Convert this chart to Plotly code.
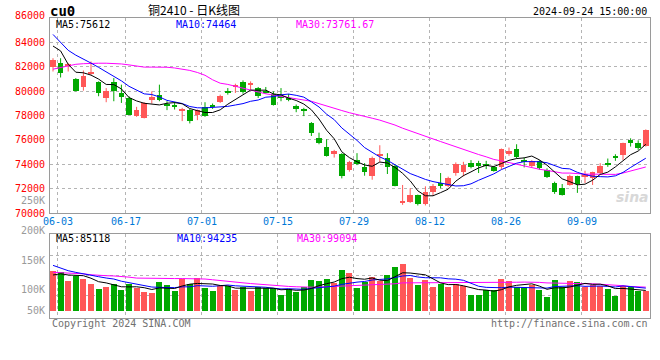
import plotly.graph_objects as go

# ---------------- data ----------------
dates = ["06-03","06-04","06-05","06-06","06-07","06-11","06-12","06-13","06-14","06-17",
         "06-18","06-19","06-20","06-21","06-24","06-25","06-26","06-27","06-28",
         "07-01","07-02","07-03","07-04","07-05","07-08","07-09","07-10","07-11","07-12",
         "07-15","07-16","07-17","07-18","07-19","07-22","07-23","07-24","07-25","07-26",
         "07-29","07-30","07-31",
         "08-01","08-02","08-05","08-06","08-07","08-08","08-09","08-12","08-13","08-14",
         "08-15","08-16","08-19","08-20","08-21","08-22","08-23","08-26","08-27","08-28",
         "08-29","08-30",
         "09-02","09-03","09-04","09-05","09-06","09-09","09-10","09-11","09-12","09-13",
         "09-18","09-19","09-20","09-23","09-24"]
tick_dates = ["06-03", "06-17", "07-01", "07-15", "07-29", "08-12", "08-26", "09-09"]

opens = [81940, 82290, 82070, 81010, 80340, 81480, 80720, 79440, 80720, 79850,
         79440, 78000, 77810, 79250, 79710, 78980, 78820, 78350, 78490, 78060,
         78710, 78820, 79090, 80040, 80340, 80720, 80530, 80250, 79980, 79790,
         79580, 79440, 78760, 78490, 77400, 76130, 75450, 74820, 74820, 73550,
         74340, 73740, 73060, 74690, 74550, 73820, 70830, 70890, 71480, 70700,
         71760, 72460, 72240, 73280, 73330, 74090, 74090, 74010, 73790, 73740,
         74880, 75290, 74340, 73820, 74230, 73520, 72460, 72030, 72300, 73010,
         72920, 72840, 73280, 74090, 74690, 74740, 75960, 75770, 75500]
highs = [82700, 82700, 82290, 81070, 81690, 82430, 80800, 80250, 81070, 80530,
         79580, 78710, 79090, 79980, 80530, 79170, 79110, 78630, 78540, 78490,
         79090, 78980, 79710, 80250, 80610, 80880, 80800, 80340, 80340, 79980,
         80250, 79770, 78900, 78630, 77460, 76590, 76050, 75180, 74910, 74280,
         74910, 74090, 74630, 75560, 74910, 74010, 72300, 72030, 71510, 72190,
         72380, 73280, 72980, 74150, 74200, 74340, 74280, 74280, 73870, 75290,
         75370, 75640, 74550, 74340, 74340, 73660, 72570, 72380, 73140, 73060,
         73470, 73390, 74090, 74470, 74820, 75770, 76130, 75960, 76860]
lows = [81610, 81120, 81610, 79980, 80040, 81340, 79580, 79090, 79170, 79030,
        78080, 77890, 77760, 78980, 79170, 78440, 78490, 77540, 77350, 77620,
        77890, 78540, 79030, 79710, 79850, 79790, 80120, 79440, 79790, 78820,
        79170, 79170, 78270, 77950, 76320, 75640, 74630, 74550, 72840, 73390,
        73930, 73060, 72730, 74200, 73200, 72190, 70670, 70830, 70620, 70620,
        71430, 72030, 72110, 73060, 73010, 73660, 73280, 73600, 73390, 73600,
        74690, 74470, 73740, 73740, 73550, 72870, 71570, 71430, 72240, 71650,
        72460, 72300, 73200, 73790, 74280, 74360, 75450, 75180, 75450]
closes = [82560, 81480, 82180, 80040, 81260, 81610, 79850, 79980, 79980, 79490,
          78080, 78440, 79030, 79490, 79300, 78760, 78710, 78540, 77540, 78440,
          78000, 78710, 79630, 79850, 80440, 79900, 80610, 79580, 79870, 78900,
          79490, 79300, 78600, 78410, 76530, 75720, 74690, 75100, 73060, 74150,
          74010, 73390, 74550, 74800, 73740, 72240, 70940, 71480, 70700, 71700,
          72240, 72240, 72870, 74010, 73960, 73790, 73870, 73930, 73470, 75230,
          75100, 74610, 74200, 74230, 73660, 72920, 71700, 71510, 73060, 72380,
          73170, 73330, 73870, 74010, 74550, 75720, 75770, 75370, 76780]
volumes = [166600, 163800, 124600, 147000, 133000, 113400, 91000, 99400, 112000, 86800,
           110600, 93800, 79800, 74200, 120400, 107800, 84000, 133000, 112000, 135800,
           96600, 82600, 102200, 103600, 88200, 98000, 82600, 99400, 95200, 96600,
           65800, 91000, 79800, 100800, 128800, 124600, 133000, 114800, 170800, 159600,
           96600, 119000, 141400, 124600, 149800, 183400, 197400, 135800, 107800, 128800,
           99400, 112000, 99400, 110600, 102200, 65800, 65800, 88200, 88200, 133000,
           124600, 99400, 99400, 107800, 85400, 57400, 130200, 98000, 126000, 120400,
           99400, 109200, 102200, 91000, 63000, 102200, 98000, 81200, 81200]

ma5_head = [83700, 83300, 82200, 81550]
ma10_head = [84650, 84000, 83350, 82950, 82650, 82300, 81950, 81600, 81200]
ma30_head = [81800, 81950, 82100, 82200, 82250, 82290, 82290, 82290, 82290, 82230,
             82150, 82050, 81970, 81970, 81970, 81960, 81900, 81800, 81700, 81530,
             81300, 80930, 80650, 80550, 80400, 80250, 80100, 79900, 79780]
vma5_head = [150000, 155000, 150000, 148000]
vma10_head = [190400, 177800, 168000, 161000, 154000, 148400, 142800, 137200, 133000]
vma30_head = [161000, 160000, 158000, 157000, 155000, 151000, 148000, 147000, 146000, 145000,
              141000, 137000, 136000, 136000, 136000, 136000, 135000, 135000, 135000, 135000,
              133000, 130000, 126000, 123000, 120000, 117000, 114000, 111000, 109000]

price_ticks = [70000, 72000, 74000, 76000, 78000, 80000, 82000, 84000, 86000]
vol_labels = ["250K", "200K", "150K", "100K", "50K"]

title_code = "cu0"
title_name = "铜2410 - 日K线图"
stamp = "2024-09-24 15:00:00"
price_legend = ["MA5:75612", "MA10:74464", "MA30:73761.67"]
vol_legend = ["MA5:85118", "MA10:94235", "MA30:99094"]


def moving(values, n, head):
    out = list(head)
    for i in range(len(head), len(values)):
        out.append(sum(values[i - n + 1:i + 1]) / n)
    return out


n = len(closes)
idx = list(range(n))
ma5 = moving(closes, 5, ma5_head)
ma10 = moving(closes, 10, ma10_head)
ma30 = moving(closes, 30, ma30_head)
vma5 = moving(volumes, 5, vma5_head)
vma10 = moving(volumes, 10, vma10_head)
vma30 = moving(volumes, 30, vma30_head)

RED = "#ff5757"
GREEN = "#00a800"
up = [c >= o for o, c in zip(opens, closes)]
colors = [RED if u else GREEN for u in up]

# ---------------- geometry ----------------
W, H = 660, 360
L, R, T, B = 50, 10, 18, 42
PW, PH = W - L - R, H - T - B
STEP = 7.6          # px per session
FIRST = 53.0        # px centre of first candle
xr = [(L - FIRST) / STEP, (L + PW - FIRST) / STEP]
grid_x = [dates.index(d) + 0.6 for d in tick_dates]


def px(sx):
    return (sx - L) / PW


def py(sy):
    return (T + PH - sy) / PH


# volume axis: base at y=310.7px, 4200 per px
VK = 4200.0
vbase_px = 310.7
vol_range = [-(T + PH - vbase_px) * VK, (vbase_px - 234) * VK]
vol_grid = [(vbase_px - s) * VK for s in (255, 275, 295)]

fig = go.Figure()

# candle wicks
for col, flag in ((RED, True), (GREEN, False)):
    xs, ys = [], []
    for i in idx:
        if up[i] == flag:
            xs += [i, i, None]
            ys += [lows[i], highs[i], None]
    fig.add_trace(go.Scatter(x=xs, y=ys, mode="lines", line=dict(color=col, width=1),
                             xaxis="x", yaxis="y", hoverinfo="skip"))

# candle bodies
fig.add_trace(go.Bar(x=idx, base=[min(o, c) for o, c in zip(opens, closes)],
                     y=[max(abs(c - o), 90) for o, c in zip(opens, closes)],
                     marker=dict(color=colors, line=dict(width=0)), width=0.76,
                     xaxis="x", yaxis="y", hoverinfo="skip"))

for vals, col in ((ma30, "#ff00ff"), (ma10, "#0000ff"), (ma5, "#000000")):
    fig.add_trace(go.Scatter(x=idx, y=vals, mode="lines", line=dict(color=col, width=1),
                             xaxis="x", yaxis="y", hoverinfo="skip"))

# volume
fig.add_trace(go.Bar(x=idx, y=volumes, marker=dict(color=colors, line=dict(width=0)),
                     width=0.8, xaxis="x2", yaxis="y2", hoverinfo="skip"))
for vals, col in ((vma30, "#ff00ff"), (vma10, "#0000ff"), (vma5, "#000000")):
    fig.add_trace(go.Scatter(x=idx, y=vals, mode="lines", line=dict(color=col, width=1),
                             xaxis="x2", yaxis="y2", hoverinfo="skip"))

GRID = "#b4b4b4"
BORDER = "#9a9a9a"
axis_common = dict(showline=True, mirror=True, linecolor=BORDER, linewidth=1,
                   zeroline=False, showticklabels=False, ticks="",
                   showgrid=True, gridcolor=GRID, griddash="dot", gridwidth=1)

fig.update_layout(
    width=W, height=H, margin=dict(l=L, r=R, t=T, b=B),
    paper_bgcolor="white", plot_bgcolor="white", showlegend=False,
    hovermode=False, barmode="overlay", bargap=0,
    xaxis=dict(domain=[0, 1], range=xr, anchor="y", tickmode="array", tickvals=grid_x, **axis_common),
    yaxis=dict(domain=[0.35, 1], range=[price_ticks[0], price_ticks[-1]], anchor="x",
               tickmode="array", tickvals=price_ticks[1:-1], **axis_common),
    xaxis2=dict(domain=[0, 1], range=xr, anchor="y2", matches="x", tickmode="array",
                tickvals=grid_x, **axis_common),
    yaxis2=dict(domain=[0, 0.28], range=vol_range, anchor="x2", tickmode="array",
                tickvals=vol_grid, **axis_common),
)

MONO = "DejaVu Sans Mono"
ann = []
# price labels
for v in price_ticks:
    ann.append(dict(x=0, xref="paper", y=v, yref="y", xanchor="right", yanchor="middle",
                    xshift=-3, yshift=3 if v == price_ticks[-1] else 0,
                    text=f"{v}", showarrow=False, font=dict(family=MONO, size=10, color="#ff0000")))
# volume labels (positions as drawn on the original)
for lab, sy in zip(vol_labels, (200.7, 230.7, 260.7, 289.3, 310.0)):
    ann.append(dict(x=0, xref="paper", y=py(sy), yref="paper", xanchor="right", yanchor="middle",
                    xshift=-3, text=lab, showarrow=False,
                    font=dict(family=MONO, size=10, color="#9a9a9a")))
# date labels
for d, gx in zip(tick_dates, grid_x):
    ann.append(dict(x=gx, xref="x", y=py(221.7), yref="paper", xanchor="center", yanchor="middle",
                    text=d, showarrow=False, font=dict(family=MONO, size=10, color="#0078d7")))
# header
ann.append(dict(x=px(48), xref="paper", y=py(11), yref="paper", xanchor="left", yanchor="middle",
                text=f"<b>{title_code}</b>", showarrow=False,
                font=dict(family=MONO, size=14, color="#000000")))
ann.append(dict(x=px(194), xref="paper", y=py(9.5), yref="paper", xanchor="center", yanchor="middle",
                text=title_name, showarrow=False,
                font=dict(family="Noto Sans CJK SC", size=12, color="#000000")))
ann.append(dict(x=px(648.5), xref="paper", y=py(11.5), yref="paper", xanchor="right", yanchor="middle",
                text=stamp, showarrow=False, font=dict(family=MONO, size=10, color="#000000")))
for txt, sx, col in zip(price_legend, (54, 174.3, 294.3), ("#000000", "#0000ff", "#ff00ff")):
    ann.append(dict(x=px(sx), xref="paper", y=py(24), yref="paper", xanchor="left", yanchor="middle",
                    text=txt, showarrow=False, font=dict(family=MONO, size=10, color=col)))
for txt, sx, col in zip(vol_legend, (54, 174.7, 294.7), ("#000000", "#0000ff", "#ff00ff")):
    ann.append(dict(x=px(sx), xref="paper", y=py(238.3), yref="paper", xanchor="left", yanchor="middle",
                    text=txt, showarrow=False, font=dict(family=MONO, size=10, color=col)))
# footer
ann.append(dict(x=px(50), xref="paper", y=py(323.3), yref="paper", xanchor="left", yanchor="middle",
                text="Copyright 2024 SINA.COM", showarrow=False,
                font=dict(family=MONO, size=10, color="#707070")))
ann.append(dict(x=px(649.5), xref="paper", y=py(323.3), yref="paper", xanchor="right", yanchor="middle",
                text="http://finance.sina.com.cn", showarrow=False,
                font=dict(family=MONO, size=10, color="#707070")))
# watermark
ann.append(dict(x=px(632), xref="paper", y=py(197), yref="paper", xanchor="center", yanchor="middle",
                text="<b><i>sina</i></b>", showarrow=False,
                font=dict(family="DejaVu Sans", size=14, color="#d8d8d8")))

fig.update_layout(annotations=ann)
fig.write_html("out.html", config={"displayModeBar": False},
               post_script="document.body.style.margin='0';")
